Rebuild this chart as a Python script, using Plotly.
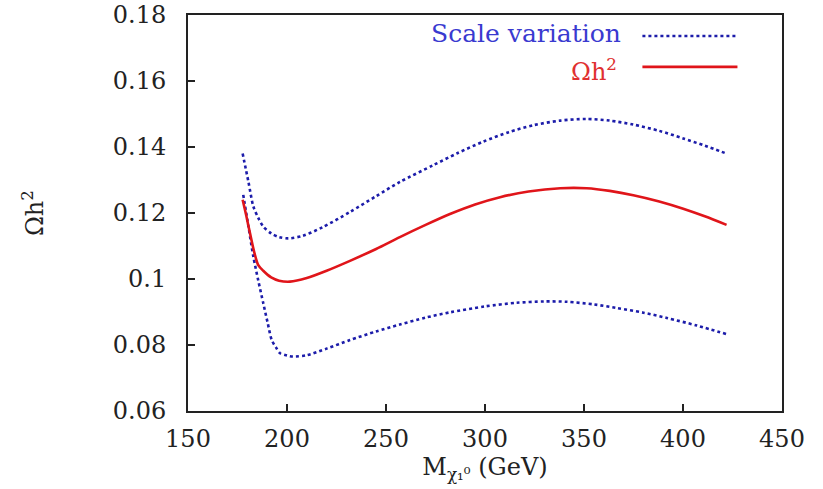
import plotly.graph_objects as go

# Central relic density curve (GeV, Omega h^2)
m_central = [177.6, 179.5, 181.3, 183.5, 185.5, 188, 192, 196, 201.5, 210, 220, 231.8, 245, 257, 270, 282.3, 295, 307.6, 322, 338, 351.3, 363, 374.9, 388, 400.1, 411, 422]
oh2_central = [0.124, 0.119, 0.1139, 0.108, 0.1042, 0.1025, 0.1005, 0.0995, 0.0992, 0.1003, 0.1025, 0.1055, 0.1091, 0.1127, 0.1164, 0.1197, 0.1226, 0.1248, 0.1265, 0.1275, 0.1275, 0.1267, 0.1254, 0.1235, 0.1213, 0.119, 0.1164]

# Upper edge of scale variation band
m_upper = [177.6, 180.5, 183, 185.5, 188, 192, 196, 200.7, 208, 218, 231.8, 245, 257, 273.9, 286, 299, 312, 324.4, 338, 351.3, 363, 374.9, 388, 400.1, 411, 422]
oh2_upper = [0.138, 0.1295, 0.122, 0.1185, 0.1159, 0.1138, 0.1127, 0.1123, 0.1131, 0.1157, 0.1203, 0.1251, 0.1294, 0.1345, 0.1381, 0.1416, 0.1445, 0.1466, 0.148, 0.1485, 0.148, 0.1468, 0.1449, 0.1426, 0.1404, 0.138]

# Lower edge of scale variation band
m_lower = [177.9, 180.5, 183, 185.5, 188, 190.2, 192.3, 194.5, 196.5, 200, 203, 210, 220, 231.8, 245, 257, 270, 282.3, 300, 316, 330, 341.2, 355, 366.5, 380, 391.8, 407, 422]
oh2_lower = [0.1255, 0.116, 0.1068, 0.0995, 0.0927, 0.0868, 0.0815, 0.0792, 0.0775, 0.0768, 0.0765, 0.0769, 0.0789, 0.0815, 0.0841, 0.0862, 0.0883, 0.0899, 0.0917, 0.0928, 0.0932, 0.0931, 0.0923, 0.0912, 0.0898, 0.0882, 0.0859, 0.0833]

x_ticks = [150, 200, 250, 300, 350, 400, 450]
y_ticks = [0.06, 0.08, 0.1, 0.12, 0.14, 0.16, 0.18]
y_tick_text = ["0.06", "0.08", "0.1", "0.12", "0.14", "0.16", "0.18"]

BLUE = "#1c1caa"
RED = "#e0151a"
FONT = "DejaVu Serif"

fig = go.Figure()
fig.add_trace(go.Scatter(x=m_upper, y=oh2_upper, mode="lines",
                         line=dict(color=BLUE, width=2.6, dash="dot", shape="spline", smoothing=0.8),
                         showlegend=False))
fig.add_trace(go.Scatter(x=m_lower, y=oh2_lower, mode="lines",
                         line=dict(color=BLUE, width=2.6, dash="dot", shape="spline", smoothing=0.8),
                         showlegend=False))
fig.add_trace(go.Scatter(x=m_central, y=oh2_central, mode="lines",
                         line=dict(color=RED, width=2.6, shape="spline", smoothing=0.8),
                         showlegend=False))

# Legend drawn gnuplot-style: text on the left, line sample on the right
fig.add_annotation(x=0.732, y=0.953, xref="paper", yref="paper", text="Scale variation",
                   showarrow=False, xanchor="right", yanchor="middle",
                   font=dict(family=FONT, size=25, color="#3a3ad0"))
fig.add_annotation(x=0.725, y=0.862, xref="paper", yref="paper", text="Ωh<sup>2</sup>",
                   showarrow=False, xanchor="right", yanchor="middle",
                   font=dict(family=FONT, size=24, color="#e03030"))
fig.add_shape(type="line", x0=0.765, x1=0.925, y0=0.947, y1=0.947, xref="paper", yref="paper",
              line=dict(color=BLUE, width=2.6, dash="dot"))
fig.add_shape(type="line", x0=0.765, x1=0.925, y0=0.869, y1=0.869, xref="paper", yref="paper",
              line=dict(color=RED, width=2.6))

fig.update_layout(
    width=823, height=489,
    margin=dict(l=188, r=41, t=15, b=78),
    paper_bgcolor="white", plot_bgcolor="white",
    font=dict(family=FONT, size=24, color="#222222"),
)
fig.update_xaxes(range=[150, 450], tickvals=x_ticks, ticks="inside", ticklen=7,
                 tickcolor="#222", tickwidth=1.5, ticklabelstandoff=5, automargin=False,
                 showline=True, linecolor="#222", linewidth=2, mirror=True,
                 showgrid=False, zeroline=False,
                 title=dict(text="M<sub>χ₁⁰</sub> (GeV)", standoff=6,
                            font=dict(family=FONT, size=24)))
fig.update_yaxes(range=[0.06, 0.18], tickvals=y_ticks, ticktext=y_tick_text,
                 ticks="inside", ticklen=7, tickcolor="#222", tickwidth=1.5,
                 ticklabelstandoff=15, automargin=False,
                 showline=True, linecolor="#222", linewidth=2, mirror=True,
                 showgrid=False, zeroline=False,
                 title=dict(text="Ωh<sup>2</sup>", standoff=62,
                            font=dict(family=FONT, size=24)))

fig.write_html("out.html")
